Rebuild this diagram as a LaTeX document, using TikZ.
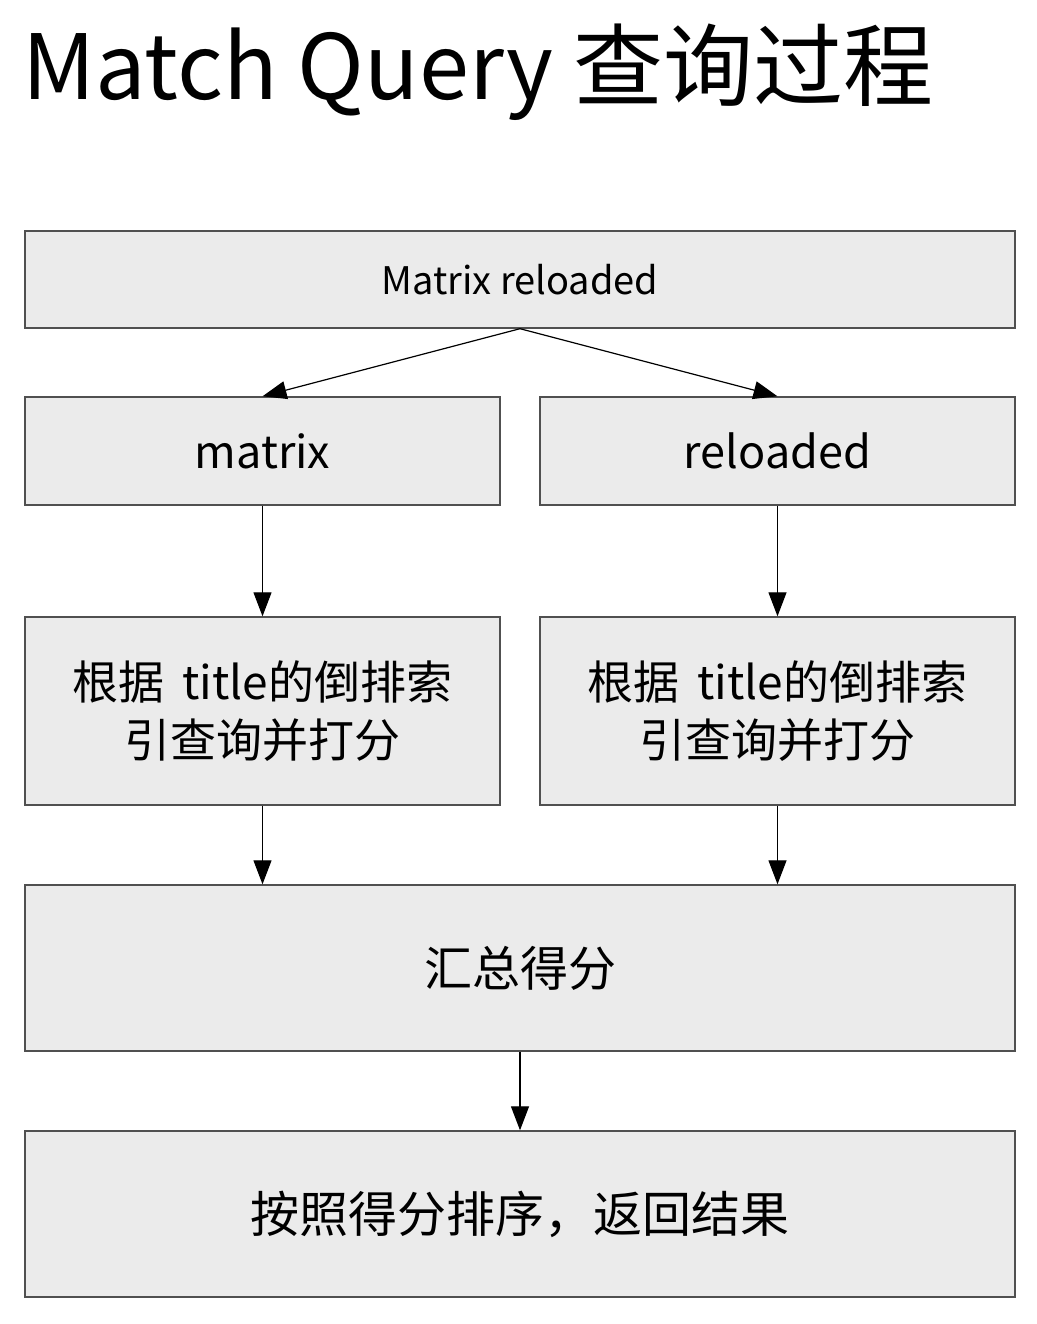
\documentclass[tikz,border=0pt]{standalone}
\usepackage{fontspec}
\setmainfont{Noto Sans CJK SC}
\usetikzlibrary{arrows.meta}
\definecolor{boxfill}{HTML}{EBEBEB}
\definecolor{boxline}{HTML}{505050}
\tikzset{
  box/.style={draw=boxline, line width=1.4pt, fill=boxfill, rectangle, inner sep=0pt, align=center, text=black},
  conn/.style={draw=black, line width=1.2pt, -{Triangle[length=24pt,width=18pt]}},
}
\begin{document}
\begin{tikzpicture}[x=1pt,y=-1pt]
\useasboundingbox (0,0) rectangle (1036,1324);
\fill[white] (0,0) rectangle (1036,1324);
\node[anchor=base west, inner sep=0pt, font=\fontsize{90pt}{94pt}\selectfont] (title) at (22,100) {Match Query 查询过程};
\node[box, minimum width=990pt, minimum height=97pt, font=\fontsize{38pt}{42pt}\selectfont] (top) at (520,279.5) {Matrix reloaded};
\node[box, minimum width=475pt, minimum height=108pt, font=\fontsize{45pt}{48pt}\selectfont] (m) at (262.5,451) {matrix};
\node[box, minimum width=475pt, minimum height=108pt, font=\fontsize{45pt}{48pt}\selectfont] (r) at (777.5,451) {reloaded};
\node[box, minimum width=475pt, minimum height=188pt, font=\fontsize{46pt}{58pt}\selectfont] (s1) at (262.5,711) {根据 \,title的倒排索\\引查询并打分};
\node[box, minimum width=475pt, minimum height=188pt, font=\fontsize{46pt}{58pt}\selectfont] (s2) at (777.5,711) {根据 \,title的倒排索\\引查询并打分};
\node[box, minimum width=990pt, minimum height=166pt, font=\fontsize{48pt}{50pt}\selectfont] (sum) at (520,968) {汇总得分};
\node[box, minimum width=990pt, minimum height=166pt, font=\fontsize{49pt}{52pt}\selectfont] (res) at (520,1214) {按照得分排序，返回结果};
\draw[conn] (top.south) -- (m.north);
\draw[conn] (top.south) -- (r.north);
\draw[conn] (m.south) -- (s1.north);
\draw[conn] (r.south) -- (s2.north);
\draw[conn] (s1.south) -- (s1.south |- sum.north);
\draw[conn] (s2.south) -- (s2.south |- sum.north);
\draw[conn] (sum.south) -- (res.north);
\end{tikzpicture}
\end{document}
